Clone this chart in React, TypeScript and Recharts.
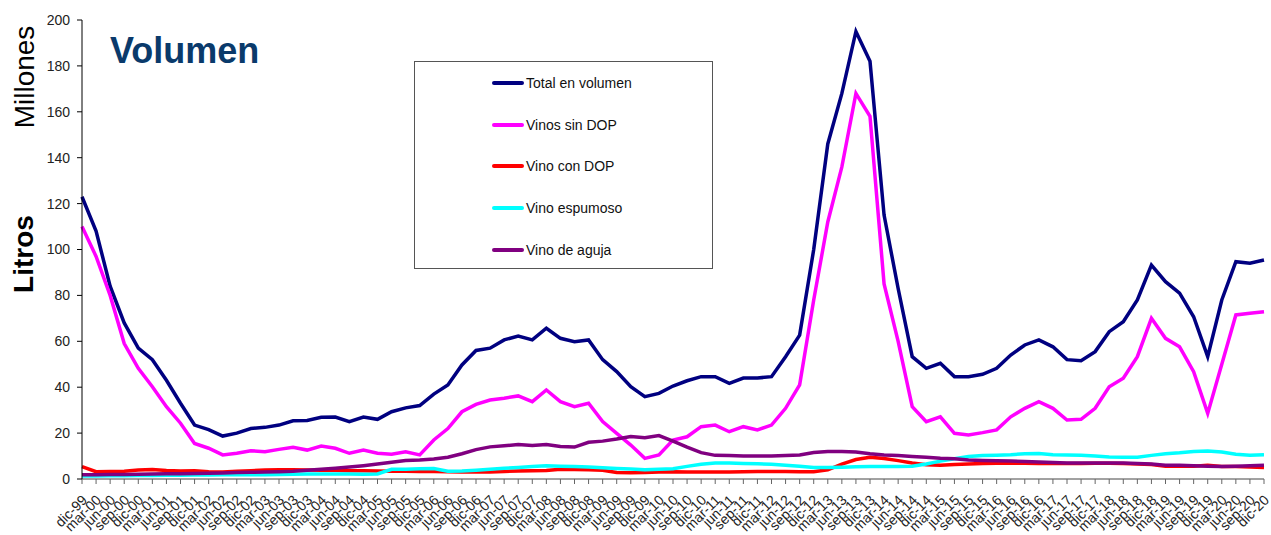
import React from 'react';
import { LineChart, Line, XAxis, YAxis, Legend } from 'recharts';

// quarter labels, dic-99 .. dic-20
const labels = [
  'dic-99',
  'mar-00', 'jun-00', 'sep-00', 'dic-00',
  'mar-01', 'jun-01', 'sep-01', 'dic-01',
  'mar-02', 'jun-02', 'sep-02', 'dic-02',
  'mar-03', 'jun-03', 'sep-03', 'dic-03',
  'mar-04', 'jun-04', 'sep-04', 'dic-04',
  'mar-05', 'jun-05', 'sep-05', 'dic-05',
  'mar-06', 'jun-06', 'sep-06', 'dic-06',
  'mar-07', 'jun-07', 'sep-07', 'dic-07',
  'mar-08', 'jun-08', 'sep-08', 'dic-08',
  'mar-09', 'jun-09', 'sep-09', 'dic-09',
  'mar-10', 'jun-10', 'sep-10', 'dic-10',
  'mar-11', 'jun-11', 'sep-11', 'dic-11',
  'mar-12', 'jun-12', 'sep-12', 'dic-12',
  'mar-13', 'jun-13', 'sep-13', 'dic-13',
  'mar-14', 'jun-14', 'sep-14', 'dic-14',
  'mar-15', 'jun-15', 'sep-15', 'dic-15',
  'mar-16', 'jun-16', 'sep-16', 'dic-16',
  'mar-17', 'jun-17', 'sep-17', 'dic-17',
  'mar-18', 'jun-18', 'sep-18', 'dic-18',
  'mar-19', 'jun-19', 'sep-19', 'dic-19',
  'mar-20', 'jun-20', 'sep-20', 'dic-20',
];

// millones de litros
const totalVolumen = [
  123,
  108, 84, 68, 57,
  52, 43, 33, 23.5,
  21.5, 18.7, 20, 22,
  22.5, 23.5, 25.4, 25.5,
  26.9, 27, 25, 27,
  26, 29.3, 31, 32,
  37, 41, 49.7, 56,
  57, 60.6, 62.3, 60.6,
  65.7, 61.3, 59.8, 60.6,
  52, 46.8, 40.2, 35.9,
  37.3, 40.5, 42.8, 44.6,
  44.6, 41.7, 44, 44,
  44.6, 53.3, 62.7, 100,
  146, 168, 195, 182,
  115, 83, 53.3, 48.2,
  50.4, 44.6, 44.6, 45.6,
  48.2, 54, 58.4, 60.6,
  57.6, 52, 51.5, 55.5,
  64.2, 68.5, 78, 93.2,
  86, 81, 70.7, 53.3,
  78, 94.7, 94, 95.4,
];

const vinosSinDop = [
  110,
  97, 80, 59, 48.2,
  40.2, 31.5, 24.3, 15.5,
  13.4, 10.5, 11.2, 12.3,
  11.9, 12.9, 13.8, 12.6,
  14.4, 13.4, 11.2, 12.6,
  11.2, 10.8, 11.9, 10.5,
  17, 22, 29.3, 32.5,
  34.4, 35.2, 36.2, 33.7,
  38.8, 33.7, 31.5, 33,
  25, 19.9, 14.8, 9,
  10.5, 17, 18.4, 22.8,
  23.5, 20.6, 22.8, 21.4,
  23.5, 30.8, 41, 78,
  112, 136, 168, 158,
  85, 60, 31.5, 25,
  27.1, 19.9, 19.2, 20.2,
  21.4, 27.1, 30.8, 33.7,
  30.8, 25.7, 26, 30.8,
  40.2, 43.9, 53.3, 70,
  61.3, 57.6, 46.8, 28.6,
  50, 71.5, 72.2, 72.9,
];

const vinoConDop = [
  5.4,
  3.2, 3.3, 3.4, 3.9,
  4.1, 3.7, 3.5, 3.6,
  3.2, 3.1, 3.4, 3.6,
  3.9, 4.0, 4.0, 3.9,
  3.8, 3.8, 3.6, 3.6,
  3.5, 3.4, 3.4, 3.3,
  3.3, 3.2, 3.1, 3.0,
  3.1, 3.3, 3.5, 3.6,
  3.7, 4.2, 4.1, 4.0,
  3.8, 2.8, 2.7, 2.8,
  3.0, 3.2, 3.0, 3.0,
  3.1, 3.1, 3.2, 3.3,
  3.3, 3.3, 3.2, 3.2,
  4.0, 6.5, 8.5, 9.5,
  8.9, 8.0, 7.0, 6.2,
  6.0, 6.3, 6.5, 6.8,
  6.9, 6.9, 6.9, 6.8,
  6.7, 6.8, 6.8, 6.9,
  6.9, 6.7, 6.5, 6.3,
  5.6, 5.6, 5.6, 6.0,
  5.5, 5.4, 5.2, 5.0,
];

const vinoEspumoso = [
  1.3,
  1.3, 1.4, 1.4, 1.5,
  1.5, 1.6, 1.6, 1.7,
  1.7, 1.8, 1.8, 1.9,
  1.9, 2.0, 2.1, 2.2,
  2.2, 2.2, 2.2, 2.1,
  2.2, 4.2, 4.3, 4.5,
  4.6, 3.4, 3.5, 3.8,
  4.2, 4.7, 5.0, 5.4,
  5.8, 5.6, 5.5, 5.2,
  4.9, 4.6, 4.4, 4.0,
  4.2, 4.5, 5.5, 6.4,
  7.0, 7.0, 6.8, 6.6,
  6.4, 6.0, 5.6, 5.0,
  5.0, 5.1, 5.3, 5.5,
  5.5, 5.5, 5.6, 6.5,
  7.8, 8.8, 9.8, 10.2,
  10.4, 10.6, 11.0, 11.1,
  10.6, 10.5, 10.3, 10.0,
  9.6, 9.5, 9.5, 10.3,
  11.0, 11.4, 12.0, 12.2,
  11.8, 10.8, 10.3, 10.6,
];

const vinoDeAguja = [
  1.8,
  1.9, 2.0, 2.0, 2.1,
  2.2, 2.3, 2.3, 2.4,
  2.5, 2.6, 2.8, 2.9,
  3.0, 3.2, 3.4, 3.8,
  4.3, 4.7, 5.2, 5.8,
  6.5, 7.3, 8.1, 8.3,
  8.7, 9.5, 11.0, 12.8,
  14.0, 14.5, 15.0, 14.6,
  15.0, 14.2, 13.9, 16.0,
  16.5, 17.4, 18.5, 18.0,
  18.9, 16.5, 13.9, 11.5,
  10.3, 10.2, 10.0, 10.0,
  10.0, 10.2, 10.5, 11.5,
  12.0, 12.0, 11.8, 11.0,
  10.5, 10.2, 9.8, 9.5,
  9.0, 8.8, 8.3, 8.1,
  8.0, 7.8, 7.6, 7.4,
  7.2, 7.0, 7.0, 7.0,
  7.0, 7.0, 6.8, 6.5,
  6.0, 6.0, 5.8, 5.6,
  5.4, 5.6, 5.8, 6.0,
];

const seriesNames = ['Total en volumen', 'Vinos sin DOP', 'Vino con DOP', 'Vino espumoso', 'Vino de aguja'];

const yTicks = [0, 20, 40, 60, 80, 100, 120, 140, 160, 180, 200];

const data = labels.map((label, i) => ({
  label,
  total: totalVolumen[i],
  sinDop: vinosSinDop[i],
  conDop: vinoConDop[i],
  espumoso: vinoEspumoso[i],
  aguja: vinoDeAguja[i],
}));

const FONT = '"Liberation Sans", Arial, sans-serif';

const XTick = (props: any) => {
  const { x, payload } = props;
  return (
    <g transform={`translate(${x + 6},${501})`}>
      <text
        x={0}
        y={0}
        textAnchor="end"
        transform="rotate(-45)"
        fontSize={14}
        fill="#222"
        fontFamily={FONT}
      >
        {payload.value}
      </text>
    </g>
  );
};

const rowCenters = [20.7, 63, 104, 146.3, 188];

const renderLegend = (props: any) => {
  const items = [...(props.payload || [])].sort(
    (a: any, b: any) => seriesNames.indexOf(a.value) - seriesNames.indexOf(b.value)
  );
  return (
    <div
      style={{
        width: 299,
        height: 208,
        border: '1px solid #555',
        boxSizing: 'border-box',
        background: '#fff',
        position: 'relative',
        fontFamily: FONT,
      }}
    >
      {items.map((entry: any, idx: number) => (
        <div
          key={entry.value}
          style={{
            position: 'absolute',
            left: 77,
            top: rowCenters[idx] - 10,
            height: 20,
            display: 'flex',
            alignItems: 'center',
            whiteSpace: 'nowrap',
          }}
        >
          <span
            style={{
              display: 'inline-block',
              width: 32,
              height: 4,
              borderRadius: 2,
              background: entry.color,
            }}
          />
          <span style={{ marginLeft: 2, fontSize: 14, color: '#111', lineHeight: '20px' }}>
            {entry.value}
          </span>
        </div>
      ))}
    </div>
  );
};

export default function App() {
  return (
    <div
      style={{
        position: 'absolute',
        left: 0,
        top: 0,
        width: 1271,
        height: 535,
        background: '#fff',
        fontFamily: FONT,
        overflow: 'hidden',
      }}
    >
      <LineChart
        width={1271}
        height={535}
        data={data}
        margin={{ top: 20, right: 7, left: 0, bottom: 0 }}
      >
        <XAxis
          dataKey="label"
          interval={0}
          height={56}
          tickSize={5}
          tick={<XTick />}
          axisLine={{ stroke: '#444' }}
          tickLine={{ stroke: '#666' }}
        />
        <YAxis
          width={82}
          domain={[0, 200]}
          ticks={yTicks}
          tickSize={5}
          tickMargin={7}
          axisLine={{ stroke: '#000' }}
          tickLine={{ stroke: '#000' }}
          tick={{ fontSize: 14, fill: '#222', fontFamily: FONT }}
        />
        <Legend
          layout="vertical"
          align="center"
          verticalAlign="middle"
          wrapperStyle={{ left: 414, top: 61, width: 299, height: 208 }}
          content={renderLegend}
        />
        <Line type="linear" dataKey="total" name={seriesNames[0]} stroke="#000080" strokeWidth={3.5} dot={false} isAnimationActive={false} />
        <Line type="linear" dataKey="sinDop" name={seriesNames[1]} stroke="#FF00FF" strokeWidth={3.5} dot={false} isAnimationActive={false} />
        <Line type="linear" dataKey="conDop" name={seriesNames[2]} stroke="#FF0000" strokeWidth={3.5} dot={false} isAnimationActive={false} />
        <Line type="linear" dataKey="espumoso" name={seriesNames[3]} stroke="#00FFFF" strokeWidth={3.5} dot={false} isAnimationActive={false} />
        <Line type="linear" dataKey="aguja" name={seriesNames[4]} stroke="#800080" strokeWidth={3.5} dot={false} isAnimationActive={false} />
      </LineChart>

      <div
        style={{
          position: 'absolute',
          left: 110,
          top: 33,
          fontSize: 36,
          fontWeight: 'bold',
          color: '#0a3a6b',
          lineHeight: 1,
          whiteSpace: 'nowrap',
        }}
      >
        Volumen
      </div>
      <div
        style={{
          position: 'absolute',
          left: 25,
          top: 77,
          transform: 'translate(-50%, -50%) rotate(-90deg)',
          fontSize: 28,
          color: '#000',
          lineHeight: 1,
          whiteSpace: 'nowrap',
        }}
      >
        Millones
      </div>
      <div
        style={{
          position: 'absolute',
          left: 24,
          top: 254,
          transform: 'translate(-50%, -50%) rotate(-90deg)',
          fontSize: 28,
          fontWeight: 'bold',
          color: '#000',
          lineHeight: 1,
          whiteSpace: 'nowrap',
        }}
      >
        Litros
      </div>
    </div>
  );
}
